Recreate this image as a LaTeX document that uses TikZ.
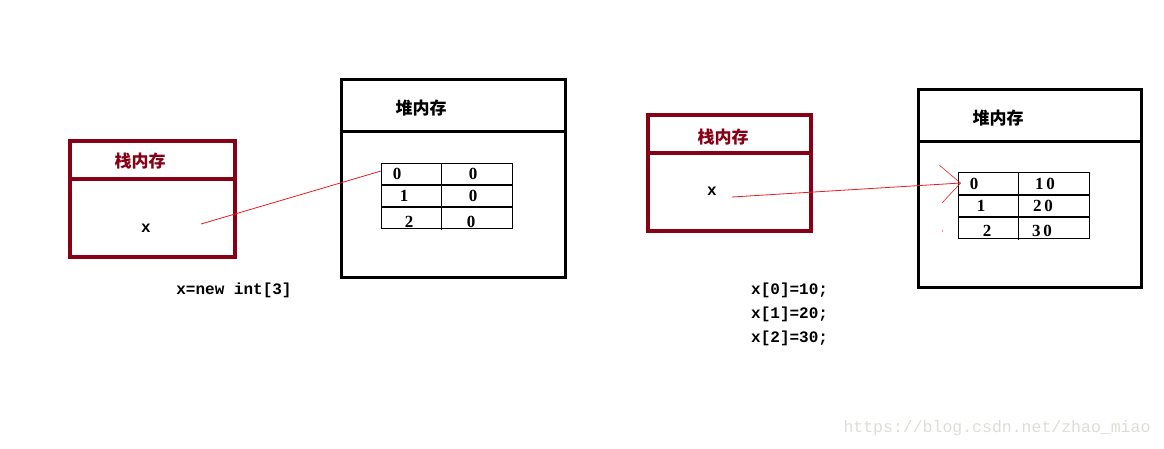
\documentclass[tikz,border=0pt]{standalone}
\usepackage{fontspec}
\setmainfont{Liberation Serif}
\setmonofont{Liberation Mono}
\newfontfamily\cjk{Noto Sans CJK SC}
\usetikzlibrary{arrows.meta}
\definecolor{stackred}{RGB}{136,0,21}
\definecolor{ptr}{RGB}{237,28,36}
\definecolor{wm}{RGB}{222,222,216}
\begin{document}
\begin{tikzpicture}[x=1pt,y=-1pt,
  stackbox/.style={draw=stackred,line width=4.5pt,inner sep=0pt},
  heapbox/.style={draw=black,line width=3pt,inner sep=0pt},
  stacktitle/.style={font=\cjk\fontsize{17}{17}\selectfont\bfseries,text=stackred,inner sep=0pt},
  heaptitle/.style={font=\cjk\fontsize{17}{17}\selectfont\bfseries,text=black,inner sep=0pt},
  cell/.style={font=\fontsize{17}{17}\selectfont\bfseries,inner sep=0pt},
  code/.style={font=\ttfamily\bfseries\fontsize{16}{16}\selectfont,inner sep=0pt},
  tabline/.style={draw=black,line width=1pt},
  rowline/.style={draw=black,line width=2pt},
  pointer/.style={draw=ptr,line width=0.8pt}]
\useasboundingbox[fill=white] (0,0) rectangle (1164,448);

% ---------- left stack ----------
\node[stackbox,minimum width=165pt,minimum height=116pt] (stackL) at (152.5,199) {};
\draw[draw=stackred,line width=4.5pt] (68,179) -- (237,179);
\node[stacktitle] (stackLt) at (140,161) {栈内存};
\node[code] (xL) at (146,228) {x};
\coordinate (xLptr) at (201,224);

% ---------- left heap ----------
\node[heapbox,minimum width=224pt,minimum height=198pt] (heapL) at (453,178) {};
\draw[line width=3pt] (339.5,131) -- (566.5,131);
\node[heaptitle] (heapLt) at (421,108) {堆内存};
\node[tabline,minimum width=131pt,minimum height=65pt,inner sep=0pt] (tabL) at (446.5,195.5) {};
\draw[rowline] (381,185) -- (512,185);
\draw[rowline] (381,207) -- (512,207);
\draw[tabline] (441.5,163) -- (441.5,230);
\node[cell] (L00) at (397,174) {0};
\node[cell] (L01) at (473,174) {0};
\node[cell] (L10) at (404,196) {1};
\node[cell] (L11) at (473,196) {0};
\node[cell] (L20) at (409,222) {2};
\node[cell] (L21) at (471,222) {0};
\coordinate (tabLin) at (381,171);
\draw[pointer] (xLptr) -- (tabLin);

\node[code] (newL) at (234,290) {x=new int[3]};

% ---------- right stack ----------
\node[stackbox,minimum width=163pt,minimum height=116pt] (stackR) at (729.5,173) {};
\draw[draw=stackred,line width=4.5pt] (646,153) -- (813,153);
\node[stacktitle] (stackRt) at (723,137) {栈内存};
\node[code] (xR) at (712,191) {x};
\coordinate (xRptr) at (732,197);

% ---------- right heap ----------
\node[heapbox,minimum width=223pt,minimum height=198pt] (heapR) at (1029.5,188) {};
\draw[line width=3pt] (916.5,141) -- (1142.5,141);
\node[heaptitle] (heapRt) at (998,118) {堆内存};
\node[tabline,minimum width=131pt,minimum height=66pt,inner sep=0pt] (tabR) at (1023.5,205) {};
\draw[rowline] (958,195) -- (1089,195);
\draw[rowline] (958,217) -- (1089,217);
\draw[tabline] (1018.5,172) -- (1018.5,240);
\node[cell] (R00) at (974,184) {0};
\node[cell] (R01) at (1045,184) {1\,0};
\node[cell] (R10) at (981,206) {1};
\node[cell] (R11) at (1043,206) {2\,0};
\node[cell] (R20) at (987,231) {2};
\node[cell] (R21) at (1042,231) {3\,0};
\coordinate (tabRin) at (961,183);
\draw[pointer,-{Straight Barb[length=20pt,width=38pt,line width=0.6pt]}] (xRptr) -- (tabRin);
\fill[ptr] (942.5,231) circle (0.7pt);

\node[code,anchor=west] (c0) at (751,290) {x[0]=10;};
\node[code,anchor=west] (c1) at (751,314) {x[1]=20;};
\node[code,anchor=west] (c2) at (751,338) {x[2]=30;};

% ---------- watermark ----------
\node[font=\ttfamily\fontsize{16.5}{16.5}\selectfont,text=wm,inner sep=0pt] (wmark) at (997,428) {https://blog.csdn.net/zhao\_miao};
\end{tikzpicture}
\end{document}
